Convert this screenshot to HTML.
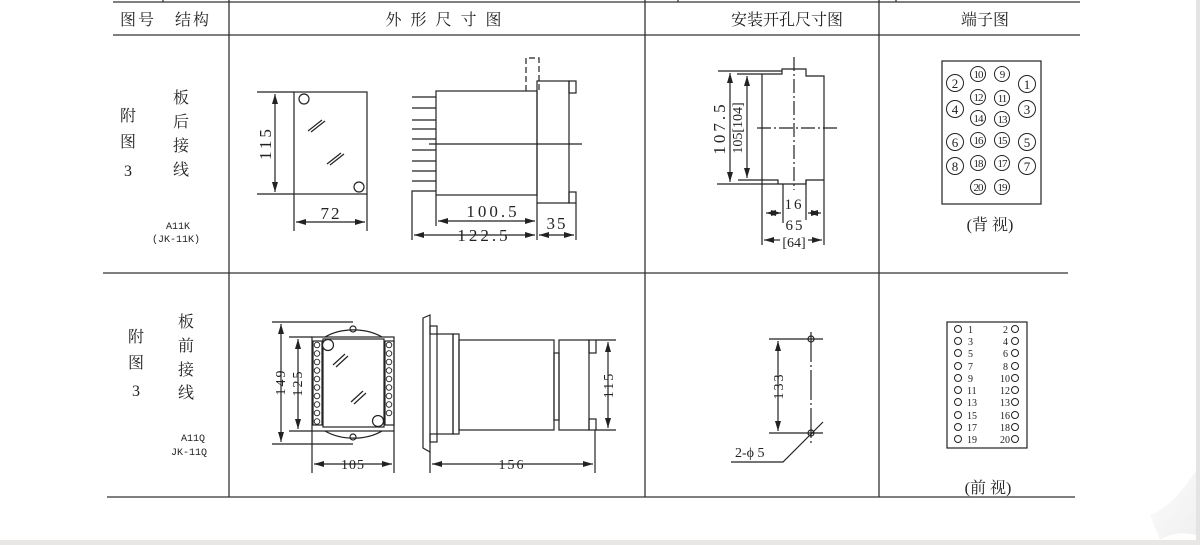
<!DOCTYPE html>
<html><head><meta charset="utf-8"><style>
html,body{margin:0;padding:0;background:#fff;}
svg{display:block;}
text{font-family:"Liberation Serif","Noto Serif CJK SC",serif;fill:#222;}
.cj{font-family:"Liberation Serif","Noto Serif CJK SC","Noto Sans CJK SC",serif;}
</style></head><body>
<svg width="1200" height="545" viewBox="0 0 1200 545" xmlns="http://www.w3.org/2000/svg">
<defs>
<marker id="a" viewBox="0 0 10 6" refX="10" refY="3" markerWidth="10" markerHeight="6" orient="auto-start-reverse" markerUnits="userSpaceOnUse"><path d="M0,0 L10,3 L0,6 z" fill="#222"/></marker>
<linearGradient id="curl" x1="0" y1="0" x2="1" y2="1"><stop offset="0" stop-color="#fafafa"/><stop offset="1" stop-color="#e0e0e0"/></linearGradient>
</defs>
<rect x="0" y="0" width="1200" height="545" fill="#fff"/>
<rect x="1196" y="0" width="4" height="545" fill="#e6e3e3"/>
<rect x="0" y="540" width="1200" height="5" fill="#e9e6e6"/>
<path d="M1150,515 Q1175,505 1196,470 L1196,535 Q1175,530 1160,540 Z" fill="url(#curl)" opacity="0.5"/>

<g stroke="#333" stroke-width="1.3" fill="none">
<line x1="113" y1="2" x2="1080" y2="2"/>
<line x1="113" y1="35" x2="1080" y2="35"/>
<line x1="103" y1="273" x2="1068" y2="273"/>
<line x1="107" y1="497" x2="1075" y2="497"/>
<line x1="229" y1="0" x2="229" y2="497"/>
<line x1="645" y1="0" x2="645" y2="497"/>
<line x1="879" y1="0" x2="879" y2="497"/>
<line x1="163" y1="0" x2="163" y2="2"/>
<line x1="678" y1="0" x2="678" y2="2"/>
<line x1="896" y1="0" x2="896" y2="2"/>
</g>

<g class="cj" font-size="16">
<text x="120" y="25" class="cj" letter-spacing="2">图号</text>
<text x="175" y="25" class="cj" letter-spacing="2">结构</text>
<text x="448" y="25" text-anchor="middle" class="cj" letter-spacing="9">外形尺寸图</text>
<text x="787" y="25" text-anchor="middle" class="cj">安装开孔尺寸图</text>
<text x="985" y="25" text-anchor="middle" class="cj">端子图</text>
</g>

<g font-size="16" text-anchor="middle">
<text x="128" y="121" class="cj">附</text>
<text x="128" y="147" class="cj">图</text>
<text x="128" y="176">3</text>
<text x="181" y="103" class="cj">板</text>
<text x="181" y="127" class="cj">后</text>
<text x="181" y="151" class="cj">接</text>
<text x="181" y="175" class="cj">线</text>
<text x="136" y="342" class="cj">附</text>
<text x="136" y="368" class="cj">图</text>
<text x="136" y="396">3</text>
<text x="186" y="327" class="cj">板</text>
<text x="186" y="351" class="cj">前</text>
<text x="186" y="375" class="cj">接</text>
<text x="186" y="398" class="cj">线</text>
</g>
<g font-size="10" text-anchor="middle">
<text x="178" y="229" style="font-family:'Liberation Mono',monospace">A11K</text>
<text x="176" y="242" style="font-family:'Liberation Mono',monospace">(JK-11K)</text>
<text x="193" y="441" style="font-family:'Liberation Mono',monospace">A11Q</text>
<text x="189" y="455" style="font-family:'Liberation Mono',monospace">JK-11Q</text>
</g>

<g stroke="#222" stroke-width="1.2" fill="none">
<rect x="294" y="92" width="73" height="102"/>
<line x1="257" y1="92" x2="294" y2="92"/>
<line x1="257" y1="194" x2="294" y2="194"/>
<line x1="275" y1="94" x2="275" y2="192" marker-start="url(#a)" marker-end="url(#a)"/>
<circle cx="304" cy="99" r="5"/>
<circle cx="359" cy="187" r="5"/>
<path d="M308,131 L322,120 M311,132 L325,121 M327,164 L341,153 M330,165 L344,154"/>
<line x1="294" y1="194" x2="294" y2="231"/>
<line x1="367" y1="194" x2="367" y2="231"/>
<line x1="296" y1="222" x2="365" y2="222" marker-start="url(#a)" marker-end="url(#a)"/>

<rect x="436" y="91" width="101" height="104"/>
<g>
<line x1="412" y1="97" x2="436" y2="97"/><line x1="412" y1="108" x2="436" y2="108"/>
<line x1="412" y1="120" x2="436" y2="120"/><line x1="412" y1="129" x2="436" y2="129"/>
<line x1="412" y1="139" x2="436" y2="139"/><line x1="412" y1="150" x2="436" y2="150"/>
<line x1="412" y1="161" x2="436" y2="161"/><line x1="412" y1="171" x2="436" y2="171"/>
<line x1="412" y1="181" x2="436" y2="181"/>
</g>
<line x1="429" y1="144" x2="582" y2="144"/>
<rect x="537" y="81" width="32" height="122"/>
<rect x="569" y="81" width="7" height="12"/>
<rect x="569" y="192" width="7" height="11"/>
<path d="M526,91 L526,58 L539,58 L539,91" stroke-dasharray="6,3"/>
<path d="M412,240 L412,191 L436,191"/>
<line x1="436" y1="195" x2="436" y2="226"/>
<line x1="537" y1="203" x2="537" y2="240"/>
<line x1="576" y1="203" x2="576" y2="240"/>
<line x1="438" y1="221" x2="535" y2="221" marker-start="url(#a)" marker-end="url(#a)"/>
<line x1="414" y1="235" x2="535" y2="235" marker-start="url(#a)" marker-end="url(#a)"/>
<line x1="539" y1="235" x2="574" y2="235" marker-start="url(#a)" marker-end="url(#a)"/>

<path d="M325,337 A44,30 0 0 1 382,337"/>
<path d="M325,431 A44,30 0 0 0 382,431"/>
<circle cx="353" cy="329" r="3"/>
<circle cx="353" cy="437" r="3"/>
<rect x="312" y="337" width="82" height="94"/>
<rect x="323" y="339" width="61" height="88"/>
<rect x="313" y="341" width="9" height="84"/>
<rect x="385" y="341" width="9" height="84"/>
<circle cx="328" cy="345" r="5.5" fill="#fff"/>
<circle cx="378" cy="421" r="5.5" fill="#fff"/>
<path d="M333,365 L345,354 M336,367 L348,356 M351,402 L363,391 M354,404 L366,393"/>
<line x1="272" y1="322" x2="353" y2="322"/>
<line x1="272" y1="444" x2="353" y2="444"/>
<line x1="289" y1="337" x2="312" y2="337"/>
<line x1="289" y1="431" x2="312" y2="431"/>
<line x1="281" y1="324" x2="281" y2="442" marker-start="url(#a)" marker-end="url(#a)"/>
<line x1="298" y1="339" x2="298" y2="429" marker-start="url(#a)" marker-end="url(#a)"/>
<line x1="312" y1="431" x2="312" y2="473"/>
<line x1="394" y1="431" x2="394" y2="473"/>
<line x1="314" y1="464" x2="392" y2="464" marker-start="url(#a)" marker-end="url(#a)"/>

<path d="M423,318 L430,315 L430,452 L423,448 Z"/>
<rect x="430" y="326" width="7" height="8"/>
<rect x="430" y="434" width="7" height="8"/>
<rect x="437" y="334" width="16" height="100"/>
<rect x="453" y="334" width="6" height="100"/>
<rect x="459" y="340" width="95" height="90"/>
<rect x="554" y="353" width="5" height="67"/>
<rect x="559" y="340" width="30" height="90"/>
<rect x="589" y="340" width="7" height="13"/>
<rect x="589" y="419" width="7" height="11"/>
<line x1="596" y1="340" x2="616" y2="340"/>
<line x1="596" y1="430" x2="616" y2="430"/>
<line x1="608" y1="342" x2="608" y2="428" marker-start="url(#a)" marker-end="url(#a)"/>
<line x1="430" y1="452" x2="430" y2="473"/>
<line x1="595" y1="430" x2="595" y2="473"/>
<line x1="432" y1="464" x2="593" y2="464" marker-start="url(#a)" marker-end="url(#a)"/>

<path d="M718,71 L782,71 L782,69 M737,74 L782,74 L782,69 L806,69 L806,76 L824,76 L824,245"/>
<line x1="762" y1="74" x2="762" y2="245"/>
<path d="M717,184 L778,184 M738,180 L778,180 L778,184 M778,184 L783,184 L806,184 L806,180 L824,180"/>
<line x1="783" y1="184" x2="783" y2="223"/>
<line x1="806" y1="180" x2="806" y2="220"/>
<line x1="794" y1="57" x2="794" y2="190" stroke-dasharray="14,3,2,3"/>
<line x1="757" y1="128" x2="838" y2="128" stroke-dasharray="14,3,2,3"/>
<line x1="730" y1="73" x2="730" y2="182" marker-start="url(#a)" marker-end="url(#a)"/>
<line x1="747" y1="76" x2="747" y2="178" marker-start="url(#a)" marker-end="url(#a)"/>
<line x1="766" y1="213" x2="781" y2="213" marker-end="url(#a)" marker-start="url(#a)" />
<line x1="808" y1="213" x2="821" y2="213" marker-start="url(#a)" marker-end="url(#a)"/>
<line x1="764" y1="240" x2="780" y2="240" marker-start="url(#a)"/>
<line x1="808" y1="240" x2="822" y2="240" marker-end="url(#a)"/>

<line x1="769" y1="339" x2="823" y2="339"/>
<line x1="769" y1="433" x2="823" y2="433"/>
<line x1="811" y1="332" x2="811" y2="443" stroke-dasharray="30,3,2,3"/>
<circle cx="811" cy="339" r="3"/>
<circle cx="811" cy="433" r="3"/>
<line x1="778" y1="341" x2="778" y2="431" marker-start="url(#a)" marker-end="url(#a)"/>
<path d="M823,422 L783,462 L731,462"/>

<rect x="942" y="61" width="99" height="143"/>
<g stroke-width="1">
<circle cx="955" cy="83" r="8.5"/><circle cx="978" cy="74" r="7.5"/><circle cx="1002" cy="74" r="7.5"/><circle cx="1027" cy="84" r="8.5"/>
<circle cx="978" cy="97" r="7.5"/><circle cx="1002" cy="98" r="7.5"/>
<circle cx="955" cy="109" r="8.5"/><circle cx="1027" cy="109" r="8.5"/>
<circle cx="978" cy="118" r="7.5"/><circle cx="1002" cy="119" r="7.5"/>
<circle cx="955" cy="142" r="8.5"/><circle cx="978" cy="140" r="7.5"/><circle cx="1002" cy="140" r="7.5"/><circle cx="1027" cy="142" r="8.5"/>
<circle cx="955" cy="166" r="8.5"/><circle cx="978" cy="163" r="7.5"/><circle cx="1002" cy="163" r="7.5"/><circle cx="1027" cy="166" r="8.5"/>
<circle cx="978" cy="187" r="7.5"/><circle cx="1002" cy="187" r="7.5"/>
</g>

<rect x="947" y="322" width="80" height="126"/>
<g stroke-width="1">
<circle cx="958" cy="329" r="3.5"/><circle cx="958" cy="341" r="3.5"/><circle cx="958" cy="353" r="3.5"/><circle cx="958" cy="366" r="3.5"/><circle cx="958" cy="378" r="3.5"/><circle cx="958" cy="390" r="3.5"/><circle cx="958" cy="402" r="3.5"/><circle cx="958" cy="415" r="3.5"/><circle cx="958" cy="427" r="3.5"/><circle cx="958" cy="439" r="3.5"/>
<circle cx="1015" cy="329" r="3.5"/><circle cx="1015" cy="341" r="3.5"/><circle cx="1015" cy="353" r="3.5"/><circle cx="1015" cy="366" r="3.5"/><circle cx="1015" cy="378" r="3.5"/><circle cx="1015" cy="390" r="3.5"/><circle cx="1015" cy="402" r="3.5"/><circle cx="1015" cy="415" r="3.5"/><circle cx="1015" cy="427" r="3.5"/><circle cx="1015" cy="439" r="3.5"/>
</g>
</g>

<g stroke="#222" stroke-width="0.9" fill="#fff">
<circle cx="317" cy="345" r="2.8"/><circle cx="317" cy="353.5" r="2.8"/><circle cx="317" cy="362" r="2.8"/><circle cx="317" cy="370.5" r="2.8"/><circle cx="317" cy="379" r="2.8"/><circle cx="317" cy="387.5" r="2.8"/><circle cx="317" cy="396" r="2.8"/><circle cx="317" cy="404.5" r="2.8"/><circle cx="317" cy="413" r="2.8"/><circle cx="317" cy="421.5" r="2.8"/>
<circle cx="389" cy="345" r="2.8"/><circle cx="389" cy="353.5" r="2.8"/><circle cx="389" cy="362" r="2.8"/><circle cx="389" cy="370.5" r="2.8"/><circle cx="389" cy="379" r="2.8"/><circle cx="389" cy="387.5" r="2.8"/><circle cx="389" cy="396" r="2.8"/><circle cx="389" cy="404.5" r="2.8"/><circle cx="389" cy="413" r="2.8"/>
</g>

<g font-size="17">
<text transform="translate(271,143) rotate(-90)" text-anchor="middle" style="letter-spacing:3px">115</text>
<text x="331" y="219" text-anchor="middle" style="letter-spacing:2px">72</text>
<text x="493" y="217" text-anchor="middle" style="letter-spacing:3px">100.5</text>
<text x="484" y="241" text-anchor="middle" style="letter-spacing:3px">122.5</text>
<text x="557" y="229" text-anchor="middle" style="letter-spacing:2px">35</text>
<text transform="translate(725,128) rotate(-90)" text-anchor="middle" style="letter-spacing:3px">107.5</text>
</g>
<g font-size="14">
<text transform="translate(742,128) rotate(-90)" text-anchor="middle">105[104]</text>
<text x="794" y="209" text-anchor="middle" style="letter-spacing:2px" font-size="15">16</text>
<text x="795" y="230" text-anchor="middle" style="letter-spacing:2px" font-size="15">65</text>
<text x="794" y="247" text-anchor="middle">[64]</text>
<text transform="translate(285,382) rotate(-90)" text-anchor="middle" style="letter-spacing:2px">149</text>
<text transform="translate(302,383) rotate(-90)" text-anchor="middle" style="letter-spacing:2px">125</text>
<text x="353" y="469" text-anchor="middle" style="letter-spacing:1px">105</text>
<text x="512" y="469" text-anchor="middle" style="letter-spacing:2px">156</text>
<text transform="translate(613,385) rotate(-90)" text-anchor="middle" style="letter-spacing:2px">115</text>
<text transform="translate(783,386) rotate(-90)" text-anchor="middle" style="letter-spacing:2px">133</text>
<text x="735" y="457">2-ϕ 5</text>
</g>

<g font-size="13" text-anchor="middle">
<text x="955" y="88">2</text><text x="1027" y="89">1</text>
<text x="955" y="114">4</text><text x="1027" y="114">3</text>
<text x="955" y="147">6</text><text x="1027" y="147">5</text>
<text x="955" y="171">8</text><text x="1027" y="171">7</text>
</g>
<g font-size="11" text-anchor="middle" letter-spacing="-1">
<text x="978" y="78">10</text><text x="1002" y="78">9</text>
<text x="978" y="101">12</text><text x="1002" y="102">11</text>
<text x="978" y="122">14</text><text x="1002" y="123">13</text>
<text x="978" y="144">16</text><text x="1002" y="144">15</text>
<text x="978" y="167">18</text><text x="1002" y="167">17</text>
<text x="978" y="191">20</text><text x="1002" y="191">19</text>
</g>
<text x="990" y="230" text-anchor="middle" font-size="16" class="cj">(背 视)</text>

<g font-size="10">
<text x="968" y="333">1</text><text x="968" y="345">3</text><text x="968" y="357">5</text><text x="968" y="370">7</text><text x="968" y="382">9</text><text x="967" y="394">11</text><text x="967" y="406">13</text><text x="967" y="419">15</text><text x="967" y="431">17</text><text x="967" y="443">19</text>
</g>
<g font-size="10" text-anchor="end">
<text x="1008" y="333">2</text><text x="1008" y="345">4</text><text x="1008" y="357">6</text><text x="1008" y="370">8</text><text x="1010" y="382">10</text><text x="1010" y="394">12</text><text x="1010" y="406">13</text><text x="1010" y="419">16</text><text x="1010" y="431">18</text><text x="1010" y="443">20</text>
</g>
<text x="988" y="493" text-anchor="middle" font-size="16" class="cj">(前 视)</text>
</svg>
</body></html>
